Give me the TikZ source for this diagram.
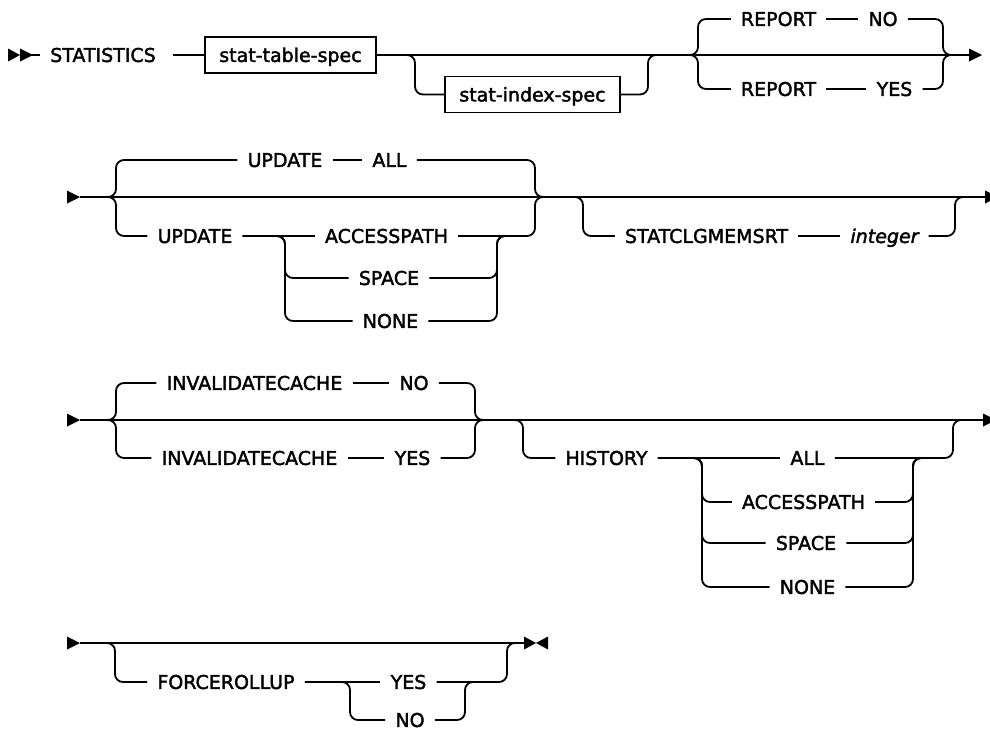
\documentclass[tikz,border=0pt]{standalone}
\usepackage{fontspec}
\setmainfont{DejaVu Sans}
\newfontfamily\rrfam[FakeBold=2]{DejaVu Sans}
\newcommand\rrfont{\rrfam\fontsize{19}{22}\selectfont}
\begin{document}
\begin{tikzpicture}[x=1pt,y=-1pt,
  trk/.style={line width=1.8pt, rounded corners=8pt},
  kw/.style={inner xsep=10pt, inner ysep=0pt, text height=13.9pt, text depth=0pt, font=\rrfont},
  bx/.style={draw, line width=1.8pt, inner sep=0pt, minimum width=#1, minimum height=36pt, text height=13.9pt, text depth=0pt, font=\rrfont},
  tipfill/.style={fill=black}]
\useasboundingbox (0,0) rectangle (990,731);
\fill[white] (0,0) rectangle (990,731);

% ---------- Row 1 ----------
\node[kw] (stat) at (103,55) {STATISTICS};
\node[bx=171] (tbl) at (290.5,55) {stat-table-spec};
\node[bx=175] (idx) at (532.5,94.5) {stat-index-spec};
\node[kw] (rep1) at (778.5,19) {REPORT};
\node[kw] (no1) at (883,19) {NO};
\node[kw] (rep2) at (778.5,89) {REPORT};
\node[kw] (yes1) at (894.5,89) {YES};
\coordinate (s1) at (20,55);
\coordinate (e1) at (970,55);
\fill[tipfill] (8,48.5) -- (8,61.5) -- (20,55) -- cycle;
\fill[tipfill] (20,48.5) -- (20,61.5) -- (33,55) -- cycle;
\draw[trk] (s1) -- (stat.west);
\draw[trk] ([xshift=7pt]stat.east) -- (tbl.west);
\draw[trk] (tbl.east) -- (e1);
\fill[tipfill] (969,48.5) -- (969,61.5) -- (982,55) -- cycle;
\draw[trk] (tbl.east) -| (415,94.5) -- (idx.west);
\draw[trk] (idx.east) -| (648,55) -- (665,55);
\draw[trk] (685,55) -| (698,19) -- (rep1.west);
\draw[trk] (rep1.east) -- (no1.west);
\draw[trk] (no1.east) -| (943,55) -- (956,55);
\draw[trk] (685,55) -| (698,89) -- (rep2.west);
\draw[trk] (rep2.east) -- (yes1.west);
\draw[trk] (yes1.east) -| (943,55) -- (956,55);

% ---------- Row 2 ----------
\coordinate (s2) at (80,197);
\coordinate (e2) at (986,197);
\fill[tipfill] (67,190.5) -- (67,203.5) -- (80,197) -- cycle;
\draw[trk] (s2) -- (e2);
\fill[tipfill] (985,190.5) -- (985,203.5) -- (998,197) -- cycle;
\node[kw] (upd1) at (285,160) {UPDATE};
\node[kw] (all1) at (389.5,160) {ALL};
\node[kw] (upd2) at (195,236) {UPDATE};
\node[kw] (acc2) at (386.5,236) {ACCESSPATH};
\node[kw] (spc2) at (389,278) {SPACE};
\node[kw] (non2) at (390.5,321) {NONE};
\node[kw] (stc) at (706.5,236) {STATCLGMEMSRT};
\node[kw,font=\rrfont\itshape] (int) at (884.5,236) {integer};
\draw[trk] (100,197) -| (116,160) -- (upd1.west);
\draw[trk] (upd1.east) -- (all1.west);
\draw[trk] (all1.east) -| (535,197) -- (548,197);
\draw[trk] (100,197) -| (116,236) -- (upd2.west);
\draw[trk] (upd2.east) -- (acc2.west);
\draw[trk] (acc2.east) -| (535,197) -- (548,197);
\draw[trk] (upd2.east) -| (285,278) -- (spc2.west);
\draw[trk] (upd2.east) -| (285,321) -- (non2.west);
\draw[trk] (spc2.east) -| (497,236) -- (510,236);
\draw[trk] (non2.east) -| (497,236) -- (510,236);
\draw[trk] (570,197) -| (583,236) -- (stc.west);
\draw[trk] (stc.east) -- (int.west);
\draw[trk] (int.east) -| (955,197) -- (968,197);

% ---------- Row 3 ----------
\coordinate (s3) at (80,420);
\coordinate (e3) at (984,420);
\fill[tipfill] (67,413.5) -- (67,426.5) -- (80,420) -- cycle;
\draw[trk] (s3) -- (e3);
\fill[tipfill] (983,413.5) -- (983,426.5) -- (996,420) -- cycle;
\node[kw] (inv1) at (254.5,383) {INVALIDATECACHE};
\node[kw] (no3) at (414,383) {NO};
\node[kw] (inv2) at (249.5,458) {INVALIDATECACHE};
\node[kw] (yes3) at (412.5,458) {YES};
\node[kw] (hist) at (606.5,458) {HISTORY};
\node[kw] (all3) at (807.5,458) {ALL};
\node[kw] (acc3) at (803.5,502) {ACCESSPATH};
\node[kw] (spc3) at (806,543) {SPACE};
\node[kw] (non3) at (807.5,587) {NONE};
\draw[trk] (100,420) -| (116,383) -- (inv1.west);
\draw[trk] (inv1.east) -- (no3.west);
\draw[trk] (no3.east) -| (475,420) -- (488,420);
\draw[trk] (100,420) -| (116,458) -- (inv2.west);
\draw[trk] (inv2.east) -- (yes3.west);
\draw[trk] (yes3.east) -| (475,420) -- (488,420);
\draw[trk] (510,420) -| (523,458) -- (hist.west);
\draw[trk] (hist.east) -- (all3.west);
\draw[trk] (all3.east) -| (953,420) -- (966,420);
\draw[trk] (hist.east) -| (702,502) -- (acc3.west);
\draw[trk] (hist.east) -| (702,543) -- (spc3.west);
\draw[trk] (hist.east) -| (702,587) -- (non3.west);
\draw[trk] (acc3.east) -| (913,458) -- (926,458);
\draw[trk] (spc3.east) -| (913,458) -- (926,458);
\draw[trk] (non3.east) -| (913,458) -- (926,458);

% ---------- Row 4 ----------
\coordinate (s4) at (80,643);
\coordinate (e4) at (526,643);
\fill[tipfill] (67,636.5) -- (67,649.5) -- (80,643) -- cycle;
\draw[trk] (s4) -- (e4);
\fill[tipfill] (524,636.5) -- (524,649.5) -- (536,643) -- cycle;
\fill[tipfill] (548,636.5) -- (548,649.5) -- (536,643) -- cycle;
\node[kw] (frc) at (226,682) {FORCEROLLUP};
\node[kw] (yes4) at (408.5,682) {YES};
\node[kw] (no4) at (410,720) {NO};
\draw[trk] (100,643) -| (115,682) -- (frc.west);
\draw[trk] (frc.east) -- (yes4.west);
\draw[trk] (yes4.east) -| (507,643) -- (520,643);
\draw[trk] (frc.east) -| (350,720) -- (no4.west);
\draw[trk] (no4.east) -| (465,682) -- (478,682);
\end{tikzpicture}
\end{document}
